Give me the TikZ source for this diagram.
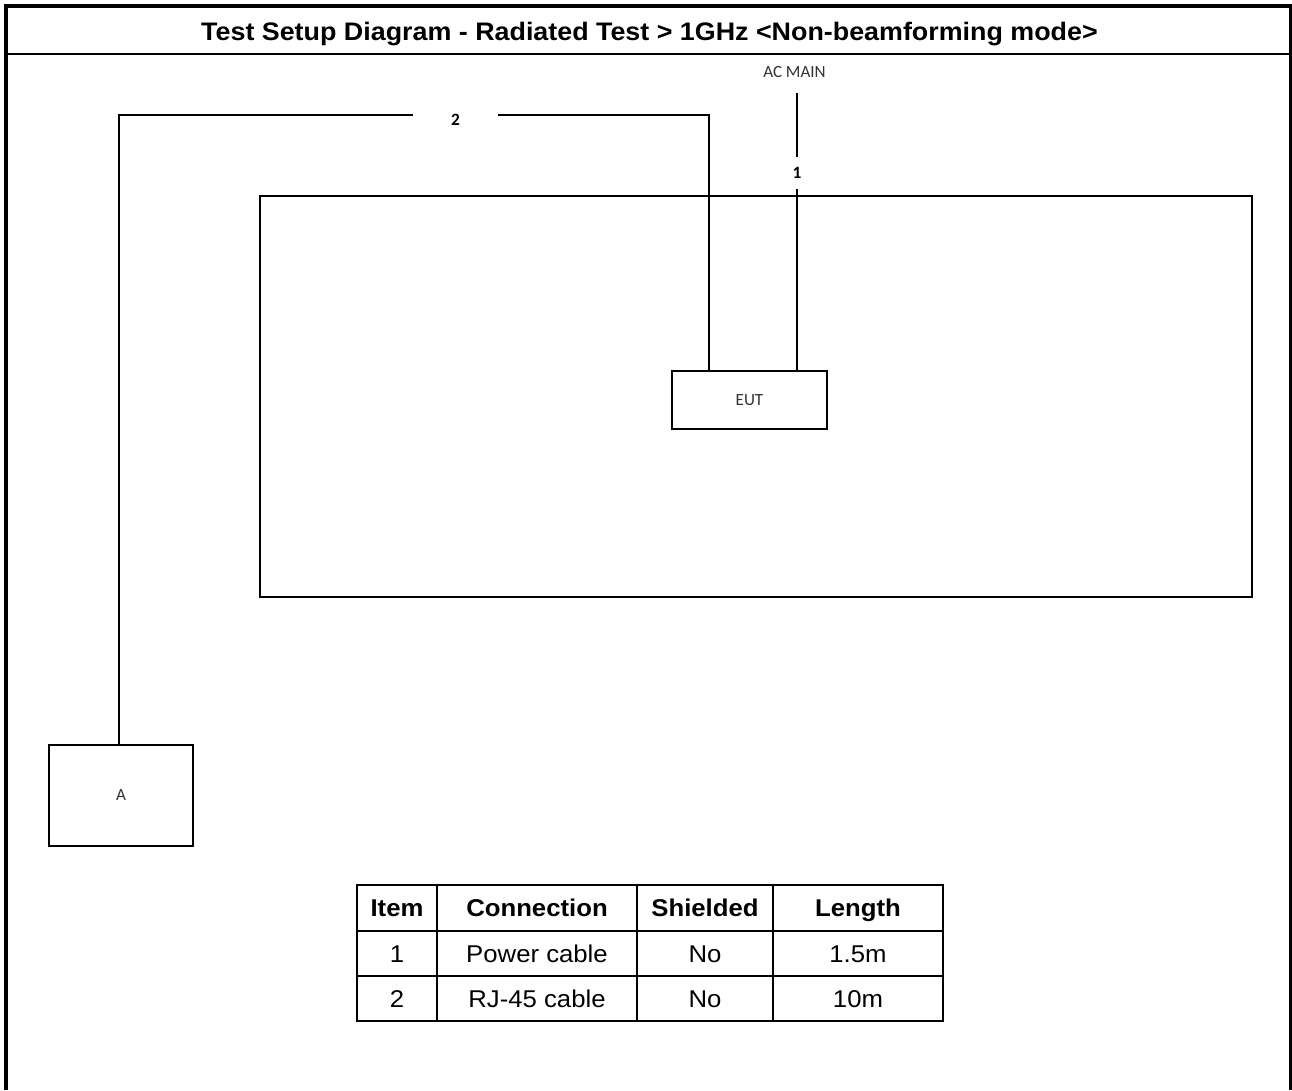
\documentclass[tikz,border=0pt]{standalone}
\usepackage{fontspec}
\setmainfont{Liberation Sans}[FakeStretch=1.06]
\newfontfamily\lblfont{Carlito}
\begin{document}
\begin{tikzpicture}[x=0.75pt,y=-0.75pt,
  frameline/.style={line width=3pt},
  cable/.style={line width=2.1pt},
  boxnode/.style={draw, line width=2.1pt, inner sep=0pt, font=\lblfont\fontsize{12.8}{15}\selectfont, text=black!80},
  smalllbl/.style={inner sep=0pt, font=\lblfont\fontsize{12.8}{15}\selectfont},
  numlbl/.style={inner sep=0pt, font=\lblfont\bfseries\fontsize{13}{15}\selectfont},
  tabline/.style={line width=1.5pt},
  headcell/.style={inner sep=0pt, anchor=base, font=\bfseries\fontsize{18.2}{22}\selectfont},
  bodycell/.style={inner sep=0pt, anchor=base, font=\fontsize{18.2}{22}\selectfont}
]
\useasboundingbox (0,0) rectangle (1292,1090);
\fill[white] (0,0) rectangle (1292,1090);
% outer frame
\draw[frameline] (6,1090) -- (6,6) -- (1292,6);
\draw[line width=2.4pt] (1290.5,4) -- (1290.5,1090);
\draw[line width=1.8pt] (6,54) -- (1290.5,54);
\node[inner sep=0pt, anchor=base, font=\bfseries\fontsize{19}{22}\selectfont] (title) at (649.5,40.5) {Test Setup Diagram - Radiated Test > 1GHz <Non-beamforming mode>};

% table (big rectangle)
\node[draw, line width=2.1pt, minimum width=744pt, minimum height=300.75pt, inner sep=0pt] (tbl) at (756,396.5) {};
% EUT
\node[boxnode, minimum width=116.25pt, minimum height=43.5pt] (eut) at (749.5,400) {EUT};
% A
\node[boxnode, minimum width=108pt, minimum height=75.75pt] (abox) at (121,795.5) {A};

% AC MAIN and cable 1
\node[smalllbl, text=black!80] (acmain) at (794.5,72) {AC MAIN};
\coordinate (actop) at (797,93);
\node[numlbl, minimum height=24pt] (lbl1) at (797,173) {1};
\draw[cable] (actop) -- (lbl1.north);
\draw[cable] (lbl1.south) -- (eut.north -| lbl1);

% cable 2
\coordinate (c2r) at (709,115);
\coordinate (c2l) at (119,115);
\node[numlbl, minimum width=63.75pt] (lbl2) at (455.5,120) {2};
\draw[cable] (eut.north -| c2r) -- (c2r) -- (c2r -| lbl2.east);
\draw[cable] (c2r -| lbl2.west) -- (c2l) -- (abox.north -| c2l);

% cable table
\coordinate (tNW) at (357,885);
\coordinate (tSE) at (943,1021);
\draw[tabline] (tNW) rectangle (tSE);
\foreach \xx in {437,637,773} \draw[tabline] (\xx,885) -- (\xx,1021);
\foreach \yy in {930.5,976} \draw[tabline] (357,\yy) -- (943,\yy);
\node[headcell] (h1) at (397,916.5) {Item};
\node[headcell] (h2) at (537,916.5) {Connection};
\node[headcell] (h3) at (705,916.5) {Shielded};
\node[headcell] (h4) at (858,916.5) {Length};
\node[bodycell] (r11) at (397,962) {1};
\node[bodycell] (r12) at (537,962) {Power cable};
\node[bodycell] (r13) at (705,962) {No};
\node[bodycell] (r14) at (858,962) {1.5m};
\node[bodycell] (r21) at (397,1007) {2};
\node[bodycell] (r22) at (537,1007) {RJ-45 cable};
\node[bodycell] (r23) at (705,1007) {No};
\node[bodycell] (r24) at (858,1007) {10m};
\end{tikzpicture}
\end{document}
